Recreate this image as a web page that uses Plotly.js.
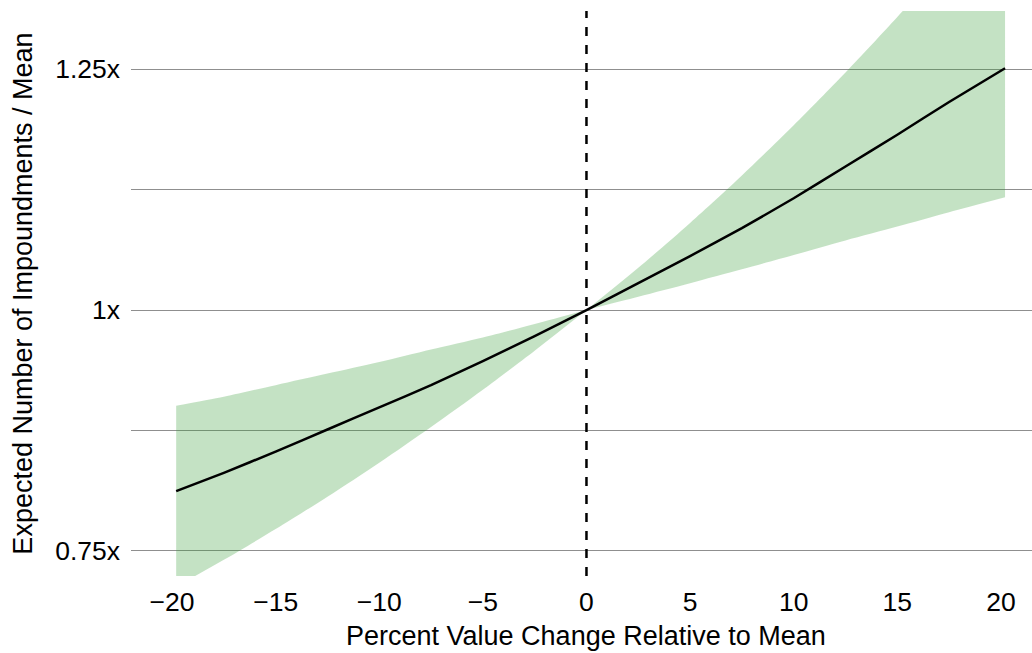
<!DOCTYPE html>
<html>
<head>
<meta charset="utf-8">
<script src="https://cdn.plot.ly/plotly-3.0.1.min.js"></script>
<style>
  html, body { margin: 0; padding: 0; background: #fff; }
  #chart { width: 1032px; height: 653px; }
</style>
</head>
<body>
<div id="chart"></div>
<script>
// Percent change in value relative to the mean
const pctChange = [-19.8, -17.5, -15, -12.5, -10, -7.5, -5, -2.5, 0, 2.5, 5, 7.5, 10, 12.5, 15, 17.5, 20.2];
// Expected impoundments as a multiple of the mean
const expected = [0.812, 0.831, 0.853, 0.876, 0.899, 0.922, 0.947, 0.973, 1.0, 1.028, 1.056, 1.085, 1.116, 1.149, 1.182, 1.216, 1.251];
// Confidence band bounds
const upperBound = [0.9007, 0.910, 0.922, 0.934, 0.946, 0.959, 0.9715, 0.9855, 1.0, 1.0438, 1.0904, 1.1397, 1.1918, 1.2466, 1.3042, 1.3646, 1.433];
const lowerBound = [0.7129, 0.7407, 0.7726, 0.8062, 0.8415, 0.8786, 0.9173, 0.9578, 1.0, 1.0138, 1.0278, 1.0422, 1.057, 1.0722, 1.0866, 1.1015, 1.117];

// y-axis ticks (minor grid lines carry no label)
const yTickVals = [0.75, 0.875, 1.0, 1.125, 1.25];
const yTickText = ['0.75x', '', '1x', '', '1.25x'];
const xTickVals = [-20, -15, -10, -5, 0, 5, 10, 15, 20];
const xTickText = ['\u221220', '\u221215', '\u221210', '\u22125', '0', '5', '10', '15', '20'];

const referenceX = 0;

const FONT = 'Liberation Sans, Arial, Helvetica, sans-serif';
const TICK_SIZE = 26.5;
const TITLE_SIZE = 27;
const BAND_FILL = 'rgba(60,160,60,0.3)';

// The band pinches to a point at the reference value, so each side is
// smoothed on its own to keep the pinch sharp.
const pivot = pctChange.indexOf(referenceX);
function side(arr, left) {
  return left ? arr.slice(0, pivot + 1) : arr.slice(pivot);
}

const traces = [];
[true, false].forEach(function (left) {
  traces.push({
    x: side(pctChange, left), y: side(lowerBound, left),
    type: 'scatter', mode: 'lines',
    line: { width: 0, shape: 'spline', smoothing: 0.8 },
    hoverinfo: 'skip', showlegend: false
  });
  traces.push({
    x: side(pctChange, left), y: side(upperBound, left),
    type: 'scatter', mode: 'lines',
    fill: 'tonexty', fillcolor: BAND_FILL,
    line: { width: 0, shape: 'spline', smoothing: 0.8 },
    hoverinfo: 'skip', showlegend: false
  });
});
traces.push({
  x: pctChange, y: expected, type: 'scatter', mode: 'lines',
  line: { color: '#000', width: 2.5, shape: 'spline', smoothing: 0.5 },
  showlegend: false
});

const layout = {
  width: 1032, height: 653,
  margin: { l: 131, r: 0, t: 11, b: 77 },
  paper_bgcolor: '#fff', plot_bgcolor: '#fff',
  font: { family: FONT, size: TICK_SIZE, color: '#000' },
  showlegend: false,
  xaxis: {
    range: [-21.98, 21.5],
    tickvals: xTickVals, ticktext: xTickText,
    showgrid: false, zeroline: false, showline: false,
    ticks: '', ticklabelstandoff: 7,
    tickfont: { family: FONT, size: TICK_SIZE, color: '#000' }
  },
  yaxis: {
    range: [0.7239, 1.3104],
    tickvals: yTickVals, ticktext: yTickText,
    showgrid: true, gridcolor: '#8f8f8f', gridwidth: 1,
    zeroline: false, showline: false,
    ticks: '', ticklabelstandoff: 10,
    tickfont: { family: FONT, size: TICK_SIZE, color: '#000' },
    title: { text: 'Expected Number of Impoundments / Mean', font: { family: FONT, size: TITLE_SIZE, color: '#000' }, standoff: 14 }
  },
  annotations: [
    {
      text: 'Percent Value Change Relative to Mean',
      xref: 'paper', yref: 'paper', x: 0.5055, y: -0.078,
      xanchor: 'center', yanchor: 'top', showarrow: false, borderpad: 0,
      font: { family: FONT, size: TITLE_SIZE, color: '#000' }
    }
  ],
  shapes: [
    {
      type: 'line', xref: 'x', yref: 'paper',
      x0: referenceX, x1: referenceX, y0: 0, y1: 1,
      line: { color: '#000', width: 2.5, dash: '9px,9px' }
    }
  ]
};

Plotly.newPlot('chart', traces, layout, { displayModeBar: false, staticPlot: true });
</script>
</body>
</html>
